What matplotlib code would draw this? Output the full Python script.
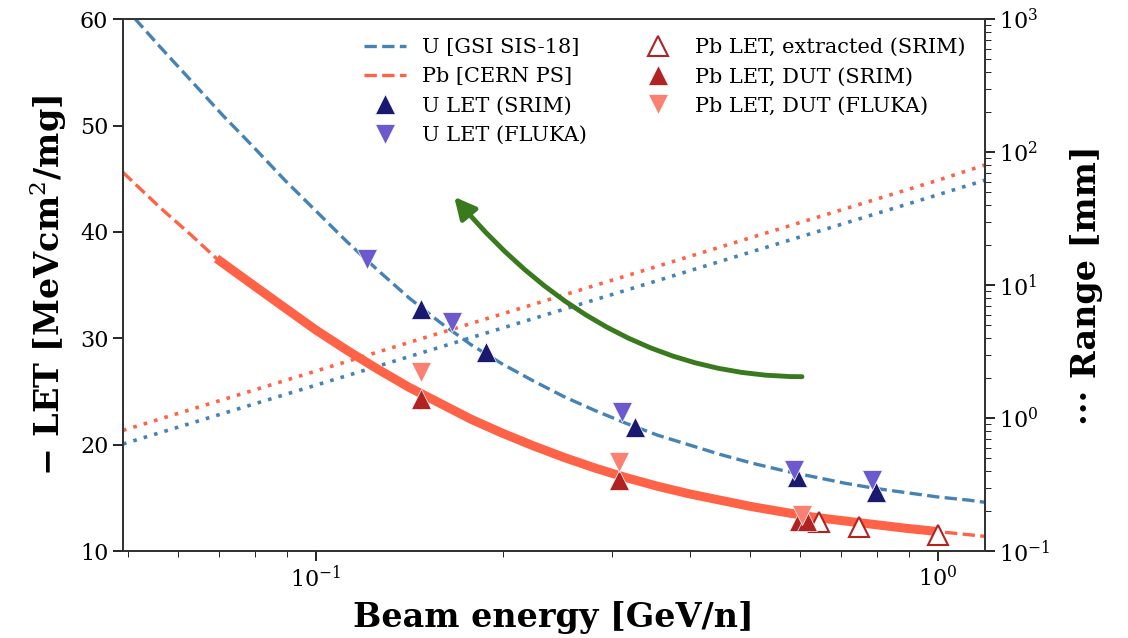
import numpy as np
import matplotlib
matplotlib.use("Agg")
import matplotlib.pyplot as plt

plt.rcParams['font.family'] = ['DejaVu Serif']
plt.rcParams['mathtext.fontset'] = 'dejavuserif'

# LET curves (energy in GeV/n, LET in MeVcm2/mg)
u_curve_e = [0.049, 0.0513, 0.0562, 0.0631, 0.0708, 0.0794, 0.0891, 0.1, 0.1122,
             0.1259, 0.1413, 0.1585, 0.1778, 0.1995, 0.2239, 0.2512, 0.2818,
             0.3162, 0.3548, 0.3981, 0.4467, 0.5012, 0.5623, 0.631, 0.7079,
             0.7943, 0.8913, 1.0, 1.122, 1.19]
u_curve_let = [61.3, 60.0, 57.4, 54.2, 51.0, 48.0, 44.9, 42.0, 39.1,
               36.4, 33.8, 31.5, 29.4, 27.6, 26.0, 24.5, 23.2,
               22.0, 20.9, 20.0, 19.1, 18.3, 17.6, 17.0, 16.4,
               15.9, 15.5, 15.1, 14.8, 14.6]

pb_curve_e = [0.049, 0.0562, 0.0631, 0.0693, 0.0794, 0.0891, 0.1, 0.1122, 0.1259,
              0.1413, 0.1585, 0.1778, 0.1995, 0.2239, 0.2512, 0.2818, 0.3162,
              0.3548, 0.3981, 0.4467, 0.5012, 0.5623, 0.631, 0.7079, 0.7943,
              0.8913, 1.0, 1.122, 1.19]
pb_curve_let = [45.6, 42.3, 39.7, 37.5, 35.0, 32.9, 30.8, 28.9, 27.1,
                25.4, 23.9, 22.4, 21.1, 19.9, 18.8, 17.8, 16.9,
                16.1, 15.4, 14.8, 14.2, 13.7, 13.2, 12.85, 12.5,
                12.15, 11.85, 11.55, 11.4]

# part of the Pb curve that is drawn thick
pb_solid_e = pb_curve_e[3:27]
pb_solid_let = pb_curve_let[3:27]

# measured / simulated points
u_srim_e = [0.1475, 0.1876, 0.326, 0.593, 0.795]
u_srim_let = [32.8, 28.7, 21.7, 17.0, 15.6]
u_fluka_e = [0.1208, 0.1655, 0.3105, 0.587, 0.783]
u_fluka_let = [37.5, 31.5, 23.1, 17.6, 16.7]

pb_extr_e = [0.644, 0.746, 1.0]
pb_extr_let = [12.7, 12.3, 11.5]
pb_dut_e = [0.1475, 0.307, 0.599, 0.617]
pb_dut_let = [24.3, 16.7, 12.8, 12.8]
pb_fluka_e = [0.1475, 0.307, 0.604]
pb_fluka_let = [26.8, 18.4, 13.4]

# ranges (mm), straight lines in log-log
range_e = [0.049, 0.1, 1.0, 1.19]
u_range = [0.64, 1.77, 47.8, 61.5]
pb_range = [0.81, 2.26, 61.4, 80.0]

fig = plt.figure(figsize=(11.28, 6.38), dpi=100)
ax = fig.add_axes([0.109, 0.136, 0.764, 0.834])
ax2 = ax.twinx()
ax.set_zorder(ax2.get_zorder() + 1)
ax.patch.set_visible(False)

dots = (0, (1, 2))
ax2.plot(range_e, u_range, color='steelblue', lw=2.6, ls=dots)
ax2.plot(range_e, pb_range, color='tomato', lw=2.6, ls=dots)
ax2.set_yscale('log')
ax2.set_ylim(0.1, 1000)

ax.plot(u_curve_e, u_curve_let, '--', color='steelblue', lw=2.4, label='U [GSI SIS-18]')
ax.plot(pb_curve_e, pb_curve_let, '--', color='tomato', lw=2.4, label='Pb [CERN PS]')
ax.plot(pb_solid_e, pb_solid_let, '-', color='tomato', lw=6.5, solid_capstyle='butt')

ms = 15
ax.plot(u_srim_e, u_srim_let, '^', color='midnightblue', ms=ms, mec='white', mew=0.5, ls='none', label='U LET (SRIM)')
ax.plot(u_fluka_e, u_fluka_let, 'v', color='slateblue', ms=ms, mec='white', mew=0.5, ls='none', label='U LET (FLUKA)')
ax.plot(pb_extr_e, pb_extr_let, '^', mfc='white', mec='firebrick', mew=1.5, ms=ms, ls='none', label='Pb LET, extracted (SRIM)')
ax.plot(pb_dut_e, pb_dut_let, '^', color='firebrick', ms=ms, mec='white', mew=0.5, ls='none', label='Pb LET, DUT (SRIM)')
ax.plot(pb_fluka_e, pb_fluka_let, 'v', color='salmon', ms=ms, mec='white', mew=0.5, ls='none', label='Pb LET, DUT (FLUKA)')

ax.annotate('', xy=(0.167, 43.3), xytext=(0.605, 26.4),
            arrowprops=dict(arrowstyle='-|>', color='#3a7a1e', lw=3.5,
                            mutation_scale=32, shrinkA=0, shrinkB=0,
                            connectionstyle='angle3,angleA=0,angleB=-50'))

ax.set_xscale('log')
ax.set_xlim(0.049, 1.19)
ax.set_ylim(10, 60)

lab = dict(fontsize=24, fontweight='bold')
ax.set_xlabel('Beam energy [GeV/n]', labelpad=6, **lab)
ax.set_ylabel('− LET [MeVcm$^2$/mg]', labelpad=8, **lab)
ax2.set_ylabel('··· Range [mm]', labelpad=14, **lab)

for a in (ax, ax2):
    a.tick_params(labelsize=16, width=1.2, length=7)
    a.tick_params(which='minor', length=4)
    for s in a.spines.values():
        s.set_color('#333333')
        s.set_linewidth(1.3)

ax.legend(ncol=2, loc='upper right', frameon=False, fontsize=15,
          columnspacing=2.4, bbox_to_anchor=(1.0, 1.0))

fig.savefig('out.png', dpi=100)
